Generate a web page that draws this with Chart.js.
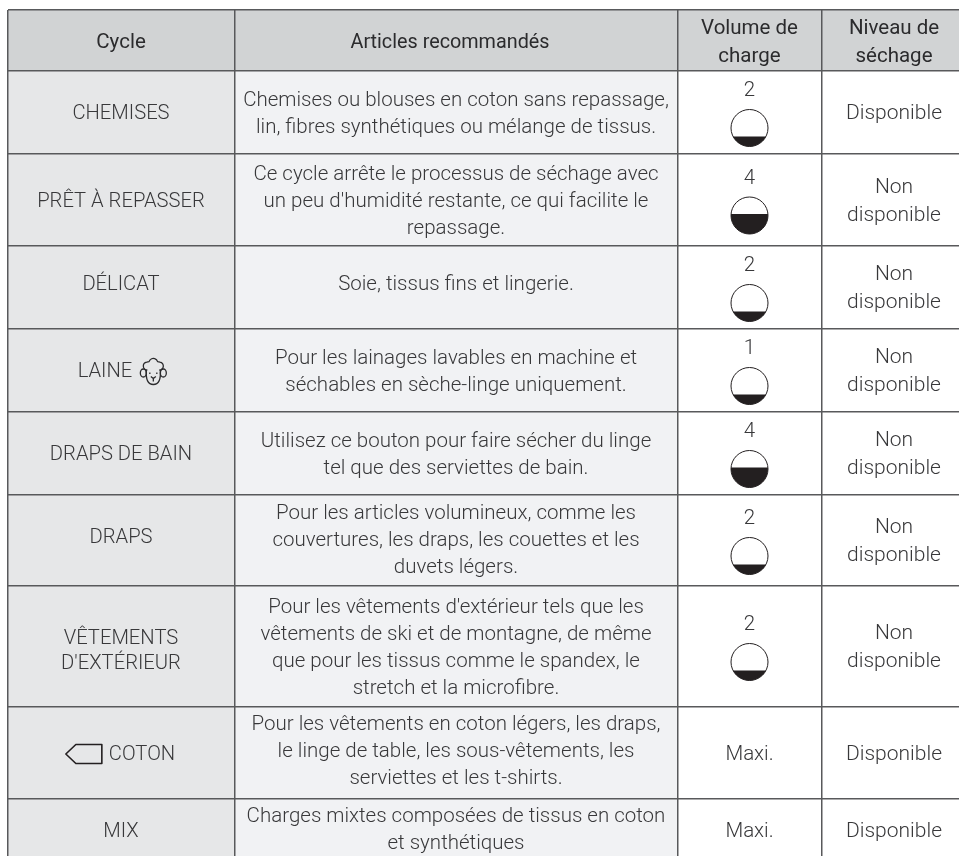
<!DOCTYPE html>
<html lang="fr">
<head>
<meta charset="utf-8">
<title>Cycles de séchage</title>
<script src="https://cdn.jsdelivr.net/npm/chart.js@4"></script>
<style>
  html, body { margin: 0; padding: 0; background: #fff; overflow: hidden; }
  canvas { display: block; }
</style>
</head>
<body>
<canvas id="table" width="959" height="856"></canvas>
<script>
(function () {
  'use strict';

  const headers = [['Cycle'], ['Articles recommandés'], ['Volume de', 'charge'], ['Niveau de', 'séchage']];

  const cycles = [
    ['CHEMISES'], ['PRÊT À REPASSER'], ['DÉLICAT'], ['LAINE'], ['DRAPS DE BAIN'], ['DRAPS'],
    ['VÊTEMENTS', "D'EXTÉRIEUR"], ['COTON'], ['MIX']
  ];

  const articles = [
    ['Chemises ou blouses en coton sans repassage,', 'lin, fibres synthétiques ou mélange de tissus.'],
    ["Ce cycle arrête le processus de séchage avec", "un peu d'humidité restante, ce qui facilite le", 'repassage.'],
    ['Soie, tissus fins et lingerie.'],
    ['Pour les lainages lavables en machine et', 'séchables en sèche-linge uniquement.'],
    ['Utilisez ce bouton pour faire sécher du linge', 'tel que des serviettes de bain.'],
    ['Pour les articles volumineux, comme les', 'couvertures, les draps, les couettes et les', 'duvets légers.'],
    ["Pour les vêtements d'extérieur tels que les", 'vêtements de ski et de montagne, de même', 'que pour les tissus comme le spandex, le', 'stretch et la microfibre.'],
    ['Pour les vêtements en coton légers, les draps,', 'le linge de table, les sous-vêtements, les', 'serviettes et les t-shirts.'],
    ['Charges mixtes composées de tissus en coton', 'et synthétiques']
  ];

  const volumes = ['2', '4', '2', '1', '4', '2', '2', 'Maxi.', 'Maxi.'];

  const niveaux = [
    ['Disponible'], ['Non', 'disponible'], ['Non', 'disponible'], ['Non', 'disponible'], ['Non', 'disponible'],
    ['Non', 'disponible'], ['Non', 'disponible'], ['Disponible'], ['Disponible']
  ];

  // table layout, in page pixels
  const colEdges = [8, 234.5, 677.5, 821.5];
  const colCenters = [121, 456, 749.5, 894];
  const rowEdges = [10, 71, 154, 246, 329, 412, 495, 586, 707, 799];
  const lastRowEnd = 861;
  const right = 959;
  const bottom = 856;

  // vertical nudges per row, the source text does not sit exactly mid-cell
  const cycleNudge = [0, 0, -4, 0, 0, -4, 3, 0, 0];
  const articleNudge = [0, 0, -4, 0, 0, -1.5, 0, -3, -1.5];

  const fillHeader = '#d1d3d4';
  const fillCycle = '#e6e7e8';
  const fillArticle = '#f1f2f4';
  const lineCol = '#58595b';
  const textCol = '#38383a';
  const fontFamily = 'Roboto, "Noto Sans", sans-serif';
  const textShift = 1.5;

  function rowMid(i) {
    const end = i + 2 < rowEdges.length ? rowEdges[i + 2] : lastRowEnd;
    return (rowEdges[i + 1] + end) / 2;
  }

  // gauge points for the rows that show a load number
  const gaugePoints = [];
  volumes.forEach((v, i) => {
    if (v !== 'Maxi.') gaugePoints.push({ x: colCenters[2], y: rowMid(i) + 15.5, level: Number(v) });
  });

  function drawLines(ctx, lines, x, y, lineH) {
    const start = y + textShift - (lines.length - 1) * lineH / 2;
    lines.forEach((t, i) => ctx.fillText(t, x, start + i * lineH));
  }

  function drawGauge(ctx, x, y, level) {
    const r = 18.5;
    const chord = level >= 4 ? -1.4 : 8.4;
    const a = Math.asin(chord / r);
    ctx.save();
    ctx.beginPath();
    ctx.arc(x, y, r, a, Math.PI - a);
    ctx.closePath();
    ctx.fillStyle = '#231f20';
    ctx.fill();
    ctx.beginPath();
    ctx.arc(x, y, r, 0, Math.PI * 2);
    ctx.strokeStyle = '#231f20';
    ctx.lineWidth = 1;
    ctx.stroke();
    ctx.restore();
  }

  function drawTag(ctx, x, y) {
    ctx.save();
    ctx.strokeStyle = '#231f20';
    ctx.lineWidth = 1.6;
    ctx.lineJoin = 'round';
    ctx.beginPath();
    ctx.moveTo(x + 36, y - 9.5);
    ctx.lineTo(x + 10, y - 9.5);
    ctx.lineTo(x, y);
    ctx.lineTo(x + 10, y + 9.5);
    ctx.lineTo(x + 36, y + 9.5);
    ctx.closePath();
    ctx.stroke();
    ctx.restore();
  }

  function drawSheep(ctx, x, y) {
    ctx.save();
    ctx.strokeStyle = '#2b2b2d';
    ctx.lineWidth = 1.3;
    ctx.lineJoin = 'round';
    // wool on top
    ctx.beginPath();
    ctx.arc(x - 6, y - 5.5, 4, Math.PI * 0.5, Math.PI * 1.45);
    ctx.arc(x, y - 8.5, 4.5, Math.PI * 1.1, Math.PI * 1.9);
    ctx.arc(x + 6, y - 5.5, 4, Math.PI * 1.55, Math.PI * 0.5);
    ctx.stroke();
    // face
    ctx.beginPath();
    ctx.moveTo(x - 7, y - 1.5);
    ctx.quadraticCurveTo(x - 8, y + 13, x, y + 13);
    ctx.quadraticCurveTo(x + 8, y + 13, x + 7, y - 1.5);
    ctx.stroke();
    // ears
    ctx.beginPath();
    ctx.ellipse(x - 10, y + 1.5, 3, 4, 0, 0, Math.PI * 2);
    ctx.moveTo(x + 13, y + 1.5);
    ctx.ellipse(x + 10, y + 1.5, 3, 4, 0, 0, Math.PI * 2);
    ctx.stroke();
    // nose and eyes
    ctx.beginPath();
    ctx.moveTo(x - 2.5, y + 5);
    ctx.lineTo(x, y + 7);
    ctx.lineTo(x + 2.5, y + 5);
    ctx.moveTo(x, y + 7);
    ctx.lineTo(x, y + 10);
    ctx.moveTo(x - 3.5, y + 1);
    ctx.lineTo(x - 3.5, y + 2.5);
    ctx.moveTo(x + 3.5, y + 1);
    ctx.lineTo(x + 3.5, y + 2.5);
    ctx.stroke();
    ctx.restore();
  }

  const tablePlugin = {
    id: 'tablePlugin',
    beforeDraw(chart) {
      const { ctx, scales: { x, y } } = chart;
      const px = v => x.getPixelForValue(v);
      const py = v => y.getPixelForValue(v);
      ctx.save();
      ctx.fillStyle = fillHeader;
      ctx.fillRect(px(colEdges[0]), py(rowEdges[0]), px(right) - px(colEdges[0]), py(rowEdges[1]) - py(rowEdges[0]));
      ctx.fillStyle = fillCycle;
      ctx.fillRect(px(colEdges[0]), py(rowEdges[1]), px(colEdges[1]) - px(colEdges[0]), py(bottom) - py(rowEdges[1]));
      ctx.fillStyle = fillArticle;
      ctx.fillRect(px(colEdges[1]), py(rowEdges[1]), px(colEdges[2]) - px(colEdges[1]), py(bottom) - py(rowEdges[1]));
      ctx.restore();
    },
    afterDatasetsDraw(chart) {
      const { ctx, scales: { x, y } } = chart;
      const px = v => x.getPixelForValue(v);
      const py = v => y.getPixelForValue(v);
      ctx.save();
      ctx.textAlign = 'center';
      ctx.textBaseline = 'middle';
      ctx.fillStyle = '#2b2b2d';
      const headMid = py((rowEdges[0] + rowEdges[1]) / 2) + 1;
      headers.forEach((h, c) => {
        ctx.font = (c === 1 ? '400 19.8px ' : '400 20.5px ') + fontFamily;
        drawLines(ctx, h, px(colCenters[c]) - (c === 1 ? 6 : 0), headMid, 28);
      });

      ctx.fillStyle = textCol;
      ctx.font = '300 20.2px ' + fontFamily;
      cycles.forEach((lines, i) => {
        const cy = py(rowMid(i)) + cycleNudge[i];
        let cx = px(colCenters[0]);
        if (lines[0] === 'LAINE') {
          const w = ctx.measureText('LAINE').width;
          cx -= 16;
          drawSheep(ctx, cx + w / 2 + 21, cy + 1);
        }
        if (lines[0] === 'COTON') {
          const w = ctx.measureText('COTON').width;
          cx += 21;
          drawTag(ctx, cx - w / 2 - 43, cy + 1);
        }
        drawLines(ctx, lines, cx, cy, 25);
      });

      ctx.font = '300 20.5px ' + fontFamily;
      articles.forEach((lines, i) => drawLines(ctx, lines, px(colCenters[1]), py(rowMid(i)) + articleNudge[i], 27));
      volumes.forEach((v, i) => {
        const off = v === 'Maxi.' ? 0 : -23;
        ctx.fillText(v, px(colCenters[2]), py(rowMid(i)) + off + textShift);
      });

      ctx.font = '300 21px ' + fontFamily;
      niveaux.forEach((lines, i) => drawLines(ctx, lines, px(colCenters[3]), py(rowMid(i)), 28));

      const meta = chart.getDatasetMeta(0);
      meta.data.forEach((pt, i) => drawGauge(ctx, pt.x, pt.y, gaugePoints[i].level));
      ctx.restore();
    }
  };

  const gridOpts = { color: lineCol, lineWidth: 1.5, drawTicks: false };

  new Chart(document.getElementById('table'), {
    type: 'scatter',
    data: {
      datasets: [{ label: 'Volume de charge', data: gaugePoints, pointRadius: 0 }]
    },
    options: {
      responsive: false,
      animation: false,
      layout: { padding: { left: colEdges[0], top: rowEdges[0], right: 0, bottom: 0 } },
      plugins: { legend: { display: false }, tooltip: { enabled: false } },
      scales: {
        x: {
          type: 'linear', min: colEdges[0], max: right,
          border: { display: false },
          grid: gridOpts,
          ticks: { display: false },
          afterBuildTicks(scale) { scale.ticks = colEdges.map(v => ({ value: v })); }
        },
        y: {
          type: 'linear', reverse: true, min: rowEdges[0], max: bottom,
          border: { display: false },
          grid: gridOpts,
          ticks: { display: false },
          afterBuildTicks(scale) { scale.ticks = rowEdges.map(v => ({ value: v })); }
        }
      }
    },
    plugins: [tablePlugin]
  });
})();
</script>
</body>
</html>
